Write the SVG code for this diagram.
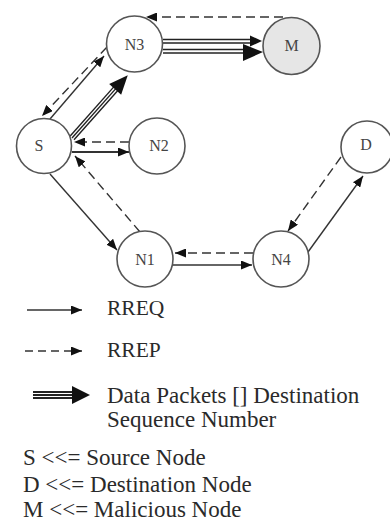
<svg xmlns="http://www.w3.org/2000/svg" width="390" height="522" viewBox="0 0 390 522">
<style>
.node{fill:#fff;stroke:#555;stroke-width:1.6}
.mal{fill:#e6e6e6}
.lbl{font-family:"Liberation Serif","Times New Roman",serif;font-size:16px;fill:#444;text-anchor:middle;dominant-baseline:central}
.req{stroke:#333;stroke-width:1.4;fill:none;marker-end:url(#ah)}
.rep{stroke:#333;stroke-width:1.4;fill:none;stroke-dasharray:9 5;marker-end:url(#ah)}
.dl{stroke:#222;stroke-width:1.4}
.hd{fill:#111}
.leg{font-family:"Liberation Serif","Times New Roman",serif;font-size:23px;fill:#2a2a2a}
</style>
<defs>
<marker id="ah" markerUnits="userSpaceOnUse" viewBox="0 0 11 9" markerWidth="11" markerHeight="9" refX="11" refY="4.5" orient="auto">
<path d="M0,0 L11,4.5 L0,9 z" fill="#111"/>
</marker>
</defs>
<g id="connectors">
<line class="req" x1="50" y1="119" x2="104" y2="56"/>
<line class="rep" x1="107" y1="47" x2="42" y2="116"/>
<g transform="translate(72,138) rotate(-48.4)">
<line class="dl" x1="0" y1="-2.7" x2="67" y2="-2.7"/>
<line class="dl" x1="0" y1="0" x2="67" y2="0"/>
<line class="dl" x1="0" y1="2.7" x2="67" y2="2.7"/>
<polygon class="hd" points="65,-8 84,0 65,8"/>
</g>
<line class="rep" x1="283" y1="17" x2="146" y2="17"/>
<line class="dl" x1="163" y1="39.5" x2="252" y2="39.5"/>
<line class="dl" x1="163" y1="43" x2="252" y2="43"/>
<polygon class="hd" points="250,35.5 262,41 250,46.5"/>
<line class="dl" x1="163" y1="49.5" x2="246" y2="49.5"/>
<line class="dl" x1="163" y1="53" x2="246" y2="53"/>
<polygon class="hd" points="243,44 263,52 243,61"/>
<line class="req" x1="72" y1="152" x2="129" y2="152" style="stroke-width:2"/>
<line class="rep" x1="129" y1="142" x2="74" y2="142"/>
<line class="req" x1="50" y1="174" x2="117" y2="250"/>
<line class="rep" x1="140" y1="232" x2="75" y2="156"/>
<line class="req" x1="173" y1="265" x2="252" y2="265"/>
<line class="rep" x1="253" y1="253" x2="175" y2="253"/>
<line class="req" x1="308" y1="252" x2="363" y2="176"/>
<line class="rep" x1="341" y1="157" x2="288" y2="231"/>
</g>
<g id="node-N3"><circle class="node" cx="134.5" cy="44" r="28"/><text class="lbl" x="134.5" y="44">N3</text></g>
<g id="node-M"><circle class="node mal" cx="291.5" cy="46" r="28.5"/><text class="lbl" x="291.5" y="45">M</text></g>
<g id="node-S"><circle class="node" cx="44" cy="146" r="27.5"/><text class="lbl" x="39" y="145">S</text></g>
<g id="node-N2"><circle class="node" cx="157" cy="146" r="28"/><text class="lbl" x="159" y="145">N2</text></g>
<g id="node-D"><circle class="node" cx="367" cy="147" r="26"/><text class="lbl" x="366" y="144">D</text></g>
<g id="node-N1"><circle class="node" cx="145" cy="259" r="28"/><text class="lbl" x="145" y="259">N1</text></g>
<g id="node-N4"><circle class="node" cx="281" cy="259" r="28"/><text class="lbl" x="281" y="259">N4</text></g>
<g id="legend">
<line class="req" x1="27" y1="310" x2="82" y2="310"/>
<text class="leg" x="107" y="315" style="font-size:21.5px">RREQ</text>
<line class="rep" x1="25" y1="351" x2="82" y2="351" style="stroke-dasharray:8 5"/>
<text class="leg" x="107" y="357" style="font-size:21.5px">RREP</text>
<line class="dl" x1="33" y1="392" x2="74" y2="392" style="stroke-width:1.8"/>
<line class="dl" x1="33" y1="395" x2="74" y2="395" style="stroke-width:1.8"/>
<line class="dl" x1="33" y1="398" x2="74" y2="398" style="stroke-width:1.8"/>
<polygon class="hd" points="72,386 90,395 72,404"/>
<text class="leg" x="107" y="403">Data Packets [] Destination</text>
<text class="leg" x="107" y="427">Sequence Number</text>
<text class="leg" x="23" y="465">S &lt;&lt;= Source Node</text>
<text class="leg" x="23" y="492">D &lt;&lt;= Destination Node</text>
<text class="leg" x="23" y="517">M &lt;&lt;= Malicious Node</text>
</g>
</svg>
